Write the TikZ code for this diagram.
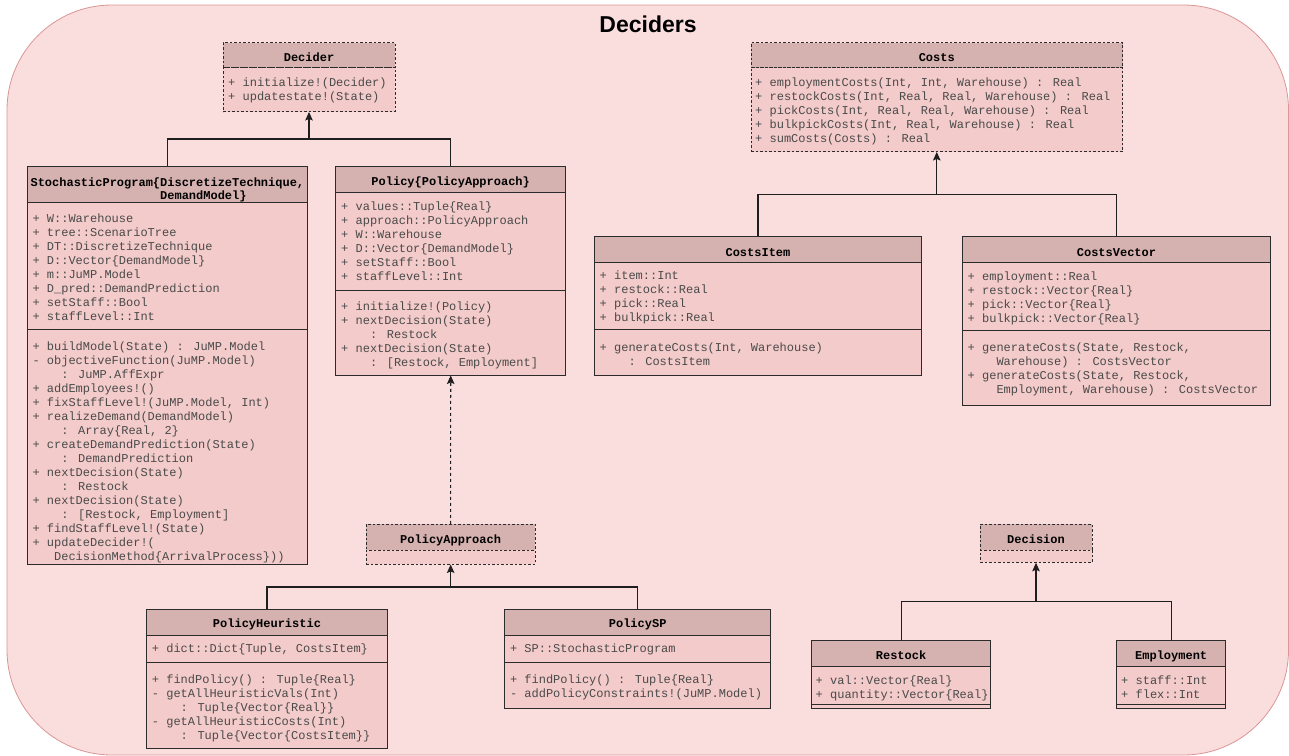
\documentclass[tikz,border=0pt]{standalone}
\usepackage{fontspec}
\setmainfont{Liberation Sans}
\newfontfamily\mono{Liberation Mono}
\usetikzlibrary{arrows.meta,fit}
\definecolor{bgC}{HTML}{FADEDE}
\definecolor{contC}{HTML}{D99694}
\definecolor{hdrC}{HTML}{D5B2AF}
\definecolor{bodyC}{HTML}{F3CBCA}
\definecolor{lineC}{HTML}{2B2B2B}
\definecolor{textC}{HTML}{4A4A4A}
\definecolor{connC}{HTML}{1E1E1E}
\newcommand\bodyfont{\mono\fontsize{12}{14}\selectfont}
\newcommand\hdrfont{\mono\bfseries\fontsize{12}{14}\selectfont}
\newcommand\ind[1]{\hspace*{#1\dimexpr 7.2pt\relax}}
\tikzset{
  hdr/.style={draw=lineC, fill=hdrC, line width=0.9pt, inner sep=0pt},
  cmp/.style={draw=lineC, fill=bodyC, line width=0.9pt, inner sep=0pt},
  dsh/.style={dash pattern=on 2.5pt off 2pt},
  htxt/.style={font=\hdrfont, text=black, inner sep=0pt, anchor=base},
  btxt/.style={font=\bodyfont, text=textC, inner sep=0pt, anchor=north west, align=left},
  con/.style={draw=connC, line width=1.1pt},
  inh/.style={con, -{Stealth[length=8.5pt,width=7.5pt,inset=1.5pt]}},
  realz/.style={inh, dash pattern=on 3pt off 3pt}
}
\begin{document}
\begin{tikzpicture}[x=1pt,y=-1pt]
\useasboundingbox (0,0) rectangle (1289,755);
\draw[draw=contC, fill=bgC, line width=0.8pt, rounded corners=105pt] (7,5) rectangle (1288.5,755);
\node[font=\fontsize{23}{26}\selectfont\bfseries, inner sep=0pt] (title) at (648,24) {Deciders};

% ---------- Decider ----------
\node[hdr,dsh,fit={(223,42.5)(395,67.5)}] (decH) {};
\node[cmp,dsh,fit={(223,67.5)(395,111.5)}] (decM) {};
\node[htxt] (decT) at (309,61.6) {Decider};
\node[btxt] (decB) at (228,76.2) {\strut+ initialize!(Decider)\\+ updatestate!(State)};

% ---------- StochasticProgram ----------
\node[hdr,fit={(27.3,166.7)(307.5,202.7)}] (spH) {};
\node[cmp,fit={(27.3,202.7)(307.5,329.3)}] (spA) {};
\node[cmp,fit={(27.3,329.3)(307.5,564.3)}] (spM) {};
\node[font=\mono\bfseries\fontsize{12}{12.5}\selectfont, text=black, inner sep=0pt, anchor=north, align=left] (spT) at (167.4,177.55)
  {\strut StochasticProgram\{DiscretizeTechnique,\\\ind{18}DemandModel\}};
\node[btxt] (spAt) at (32.3,212.5) {\strut+ W::Warehouse\\+ tree::ScenarioTree\\+ DT::DiscretizeTechnique\\+ D::Vector\{DemandModel\}\\+ m::JuMP.Model\\+ D\_pred::DemandPrediction\\+ setStaff::Bool\\+ staffLevel::Int};
\node[btxt] (spMt) at (32.3,340.2) {\strut+ buildModel(State) : JuMP.Model\\- objectiveFunction(JuMP.Model)\\\ind{4}: JuMP.AffExpr\\+ addEmployees!()\\+ fixStaffLevel!(JuMP.Model, Int)\\+ realizeDemand(DemandModel)\\\ind{4}: Array\{Real, 2\}\\+ createDemandPrediction(State)\\\ind{4}: DemandPrediction\\+ nextDecision(State)\\\ind{4}: Restock\\+ nextDecision(State)\\\ind{4}: [Restock, Employment]\\+ findStaffLevel!(State)\\+ updateDecider!(\\\ind{3}DecisionMethod\{ArrivalProcess\}))};

% ---------- Policy ----------
\node[hdr,fit={(335.7,166.7)(565.7,192.3)}] (polH) {};
\node[cmp,fit={(335.7,192.3)(565.7,290)}] (polA) {};
\node[cmp,fit={(335.7,290)(565.7,375)}] (polM) {};
\node[htxt] (polT) at (450.7,185.7) {Policy\{PolicyApproach\}};
\node[btxt] (polAt) at (341,200.9) {\strut+ values::Tuple\{Real\}\\+ approach::PolicyApproach\\+ W::Warehouse\\+ D::Vector\{DemandModel\}\\+ setStaff::Bool\\+ staffLevel::Int};
\node[btxt] (polMt) at (341,300.9) {\strut+ initialize!(Policy)\\+ nextDecision(State)\\\ind{4}: Restock\\+ nextDecision(State)\\\ind{4}: [Restock, Employment]};

% ---------- Costs ----------
\node[hdr,dsh,fit={(751,42.5)(1122.5,67.5)}] (coH) {};
\node[cmp,dsh,fit={(751,67.5)(1122.5,151.5)}] (coM) {};
\node[htxt] (coT) at (936.75,61.6) {Costs};
\node[btxt] (coMt) at (755,76.9) {\strut+ employmentCosts(Int, Int, Warehouse) : Real\\+ restockCosts(Int, Real, Real, Warehouse) : Real\\+ pickCosts(Int, Real, Real, Warehouse) : Real\\+ bulkpickCosts(Int, Real, Warehouse) : Real\\+ sumCosts(Costs) : Real};

% ---------- CostsItem ----------
\node[hdr,fit={(594.5,236.5)(921.4,262.3)}] (ciH) {};
\node[cmp,fit={(594.5,262.3)(921.4,329.5)}] (ciA) {};
\node[cmp,fit={(594.5,329.5)(921.4,375)}] (ciM) {};
\node[htxt] (ciT) at (757.95,256) {CostsItem};
\node[btxt] (ciAt) at (599.5,269.9) {\strut+ item::Int\\+ restock::Real\\+ pick::Real\\+ bulkpick::Real};
\node[btxt] (ciMt) at (599.5,341.2) {\strut+ generateCosts(Int, Warehouse)\\\ind{4}: CostsItem};

% ---------- CostsVector ----------
\node[hdr,fit={(962.5,236.5)(1270.4,262.5)}] (cvH) {};
\node[cmp,fit={(962.5,262.5)(1270.4,330.3)}] (cvA) {};
\node[cmp,fit={(962.5,330.3)(1270.4,405.3)}] (cvM) {};
\node[htxt] (cvT) at (1116.45,256) {CostsVector};
\node[btxt] (cvAt) at (967.5,270.9) {\strut+ employment::Real\\+ restock::Vector\{Real\}\\+ pick::Vector\{Real\}\\+ bulkpick::Vector\{Real\}};
\node[btxt] (cvMt) at (967.5,341.9) {\strut+ generateCosts(State, Restock,\\\ind{4}Warehouse) : CostsVector\\+ generateCosts(State, Restock,\\\ind{4}Employment, Warehouse) : CostsVector};

% ---------- PolicyApproach ----------
\node[hdr,dsh,fit={(366,524.3)(535.3,550.3)}] (paH) {};
\node[cmp,dsh,fit={(366,550.3)(535.3,564)}] (paM) {};
\node[htxt] (paT) at (450.65,543.4) {PolicyApproach};

% ---------- PolicyHeuristic ----------
\node[hdr,fit={(146.7,609)(387.3,635)}] (phH) {};
\node[cmp,fit={(146.7,635)(387.3,662.7)}] (phA) {};
\node[cmp,fit={(146.7,662.7)(387.3,748)}] (phM) {};
\node[htxt] (phT) at (267,627.4) {PolicyHeuristic};
\node[btxt] (phAt) at (151.7,642.9) {\strut+ dict::Dict\{Tuple, CostsItem\}};
\node[btxt] (phMt) at (151.7,673.5) {\strut+ findPolicy() : Tuple\{Real\}\\- getAllHeuristicVals(Int)\\\ind{4}: Tuple\{Vector\{Real\}\}\\- getAllHeuristicCosts(Int)\\\ind{4}: Tuple\{Vector\{CostsItem\}\}};

% ---------- PolicySP ----------
\node[hdr,fit={(504.8,609)(770.5,635)}] (pspH) {};
\node[cmp,fit={(504.8,635)(770.5,662.7)}] (pspA) {};
\node[cmp,fit={(504.8,662.7)(770.5,708.3)}] (pspM) {};
\node[htxt] (pspT) at (637.65,627.4) {PolicySP};
\node[btxt] (pspAt) at (509.8,642.9) {\strut+ SP::StochasticProgram};
\node[btxt] (pspMt) at (509.8,673.5) {\strut+ findPolicy() : Tuple\{Real\}\\- addPolicyConstraints!(JuMP.Model)};

% ---------- Decision ----------
\node[hdr,dsh,fit={(980,524.3)(1092,550.3)}] (dcH) {};
\node[cmp,dsh,fit={(980,550.3)(1092,562.3)}] (dcM) {};
\node[htxt] (dcT) at (1036,543.4) {Decision};

% ---------- Restock ----------
\node[hdr,fit={(811.3,640.3)(990.8,666.7)}] (rsH) {};
\node[cmp,fit={(811.3,666.7)(990.8,704.3)}] (rsA) {};
\node[cmp,fit={(811.3,704.3)(990.8,708.3)}] (rsM) {};
\node[htxt] (rsT) at (901.05,659.8) {Restock};
\node[btxt] (rsAt) at (815.5,674.9) {\strut+ val::Vector\{Real\}\\+ quantity::Vector\{Real\}};

% ---------- Employment ----------
\node[hdr,fit={(1116.7,640.3)(1225.6,666.7)}] (emH) {};
\node[cmp,fit={(1116.7,666.7)(1225.6,704.3)}] (emA) {};
\node[cmp,fit={(1116.7,704.3)(1225.6,708.3)}] (emM) {};
\node[htxt] (emT) at (1171.15,659.8) {Employment};
\node[btxt] (emAt) at (1121,674.9) {\strut+ staff::Int\\+ flex::Int};

% ---------- connectors ----------
\coordinate (dj) at (309,139);
\draw[con] (spH.north) |- (dj) -| (polH.north);
\draw[inh] (dj) -- (decM.south);

\coordinate (cj) at (936.75,194.3);
\draw[con] (ciH.north) |- (cj) -| (cvH.north);
\draw[inh] (cj) -- (coM.south);

\coordinate (paj) at (450.65,587);
\draw[con] (phH.north) |- (paj) -| (pspH.north);
\draw[inh] (paj) -- (paM.south);

\coordinate (dcj) at (1036,601.7);
\draw[con] (rsH.north) |- (dcj) -| (emH.north);
\draw[inh] (dcj) -- (dcM.south);

\draw[realz] (paH.north) -- (polM.south);
\end{tikzpicture}
\end{document}
